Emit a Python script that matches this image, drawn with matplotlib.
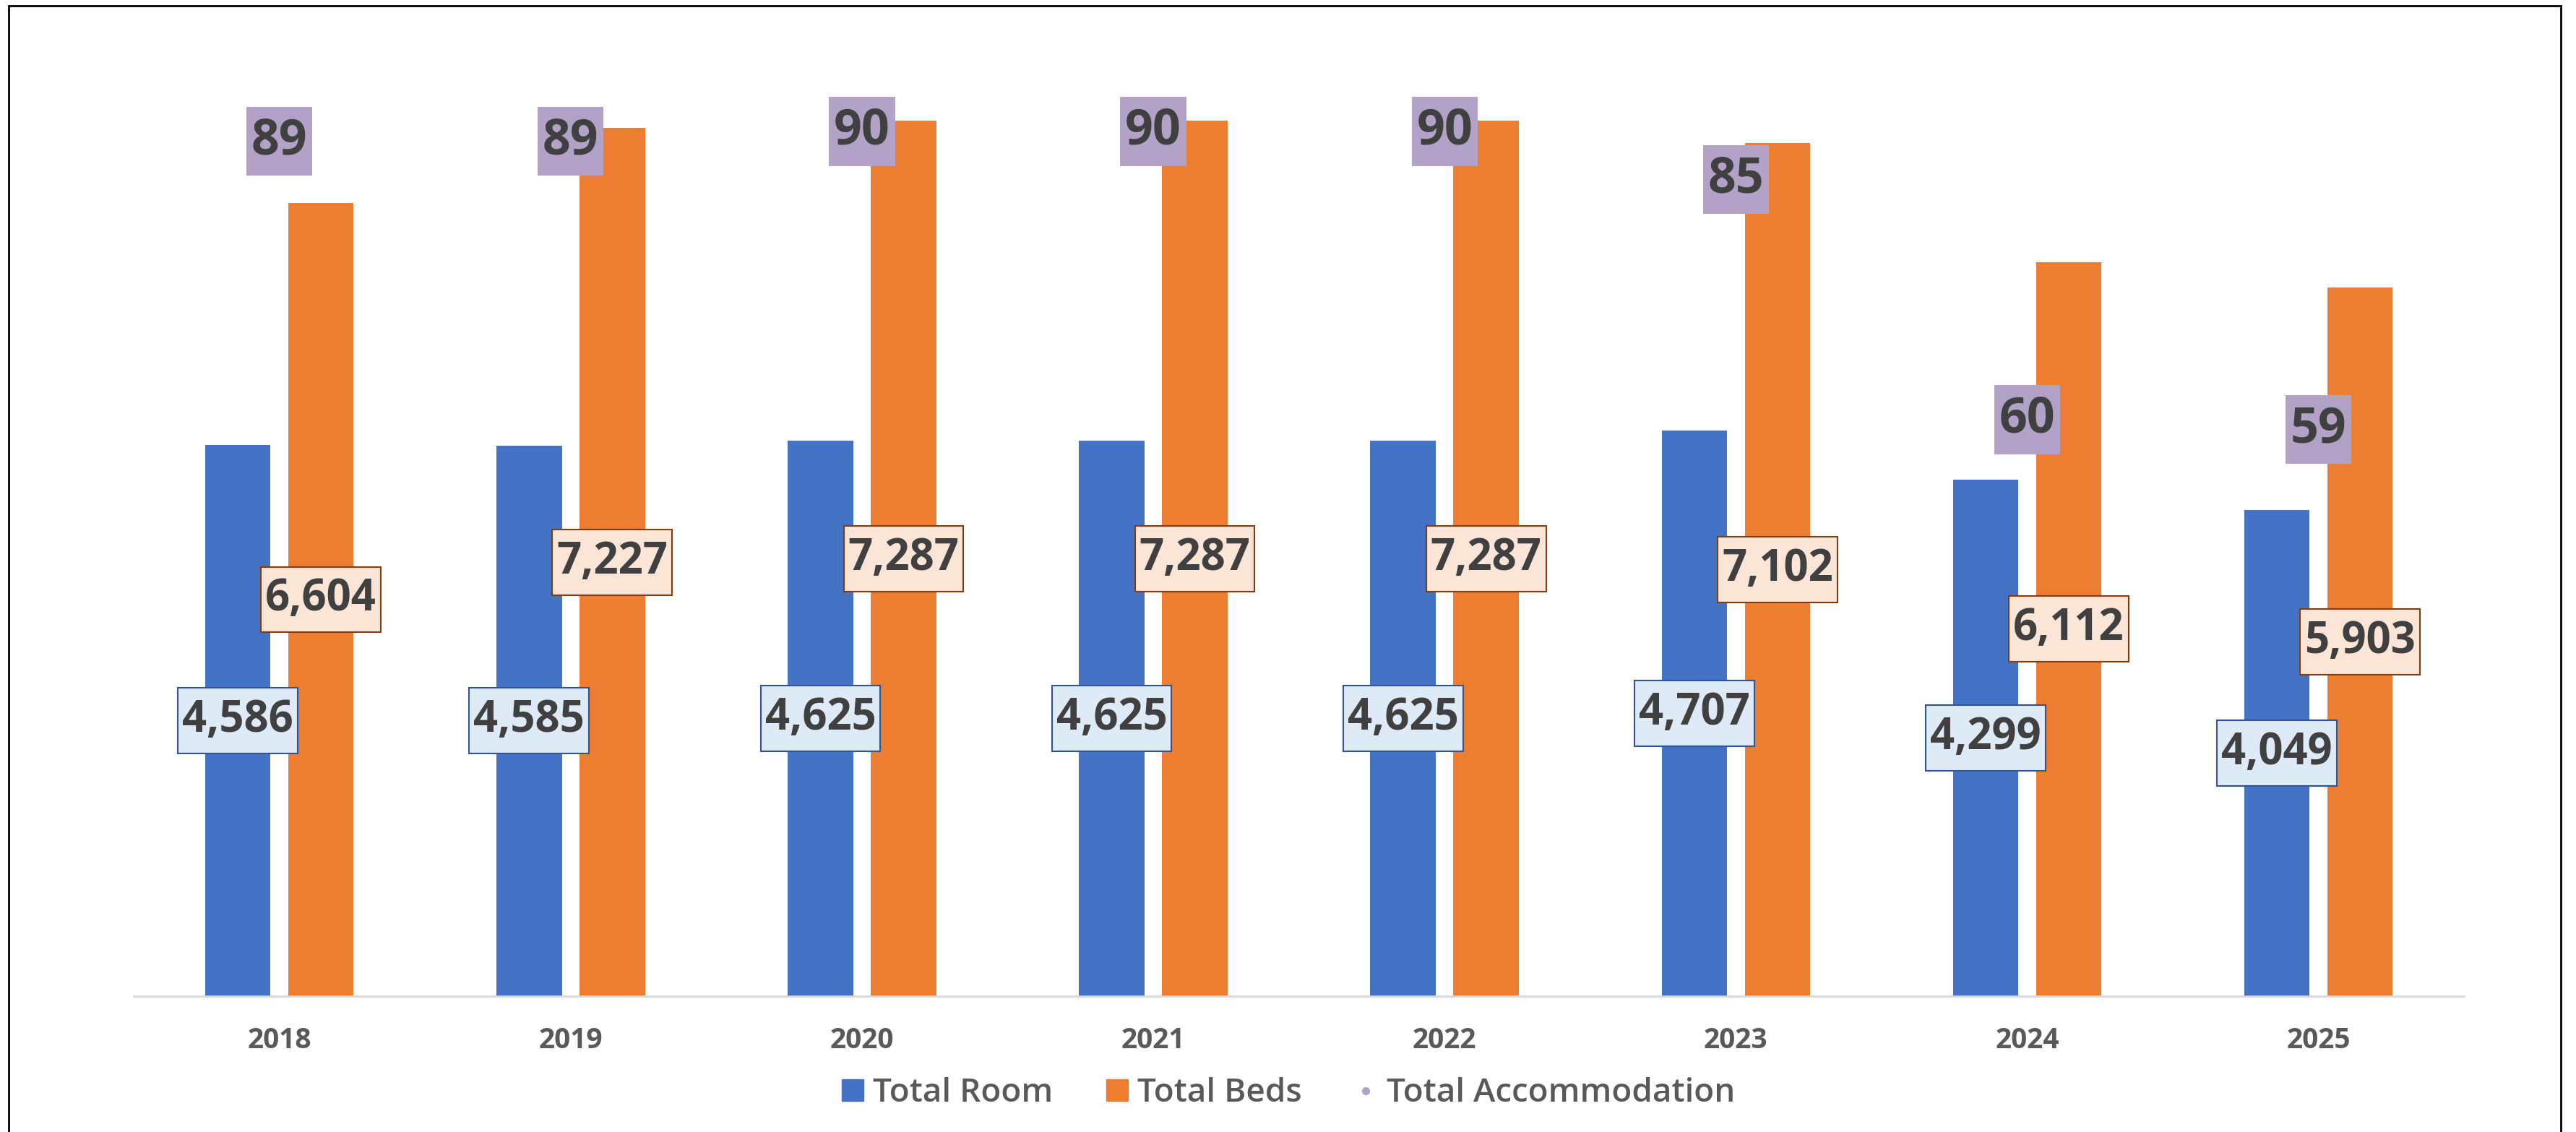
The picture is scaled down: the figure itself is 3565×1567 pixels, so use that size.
import numpy as np
import matplotlib
matplotlib.use('Agg')
import matplotlib.pyplot as plt
from matplotlib.patches import Patch, Rectangle
from matplotlib.lines import Line2D
from matplotlib.path import Path

plt.rcParams['font.family'] = ['Open Sans', 'DejaVu Sans']

# data
years = ['2018', '2019', '2020', '2021', '2022', '2023', '2024', '2025']
total_room = [4586, 4585, 4625, 4625, 4625, 4707, 4299, 4049]
total_beds = [6604, 7227, 7287, 7287, 7287, 7102, 6112, 5903]
total_accom = [89, 89, 90, 90, 90, 85, 60, 59]

c_room = '#4472C4'
c_beds = '#ED7D31'
c_accom = '#B3A2C7'
txt = '#404040'


def box(padx, pady):
    # square box with separate horizontal / vertical padding
    def style(x0, y0, width, height, mutation_size):
        px = padx * mutation_size
        py = pady * mutation_size
        x0, y0 = x0 - px, y0 - py
        x1, y1 = x0 + width + 2 * px, y0 + height + 2 * py
        return Path([(x0, y0), (x1, y0), (x1, y1), (x0, y1), (x0, y0)], closed=True)
    return style


fig = plt.figure(figsize=(35.66, 15.67), dpi=100)
ax = fig.add_axes([0.0519, 0.12, 0.9044, 0.8488])
ax2 = ax.twinx()

x = np.arange(len(years))
w = 0.2245
off = 0.1427
ax.bar(x - off, total_room, w, color=c_room, zorder=2)
ax.bar(x + off, total_beds, w, color=c_beds, zorder=2)
ax.set_xlim(-0.5, len(years) - 0.5)
ax.set_ylim(0, 8000)
ax2.set_ylim(0, 100)

# value labels, centred in the bars
for i in range(len(years)):
    ax.text(x[i] - off, total_room[i] / 2, f'{total_room[i]:,}', ha='center', va='center',
            fontsize=43, fontweight='bold', color=txt, zorder=5,
            bbox=dict(boxstyle=box(0.1, 0.25), fc='#DEEBF7', ec='#2F5597', lw=1.5))
    ax.text(x[i] + off, total_beds[i] / 2, f'{total_beds[i]:,}', ha='center', va='center',
            fontsize=43, fontweight='bold', color=txt, zorder=5,
            bbox=dict(boxstyle=box(0.1, 0.25), fc='#FBE5D6', ec='#843C0C', lw=1.5))

ax2.plot(x, total_accom, 'o', color=c_accom, markersize=6, zorder=3)
for i in range(len(years)):
    ax2.text(x[i], total_accom[i], str(total_accom[i]), ha='center', va='center',
             fontsize=49, fontweight='bold', color=txt, zorder=6,
             bbox=dict(boxstyle=box(0.1, 0.2), fc=c_accom, ec='none'))

# axes styling
for a in (ax, ax2):
    for s in ['top', 'right', 'left']:
        a.spines[s].set_visible(False)
    a.set_yticks([])
ax2.spines['bottom'].set_visible(False)
ax.spines['bottom'].set_color('#D9D9D9')
ax.spines['bottom'].set_linewidth(2)
ax.set_xticks(x, years)
ax.tick_params(axis='x', length=0, pad=30, labelsize=28, labelcolor='#595959')
for lb in ax.get_xticklabels():
    lb.set_fontweight('bold')

handles = [Patch(color=c_room, label='Total Room'),
           Patch(color=c_beds, label='Total Beds'),
           Line2D([], [], ls='none', marker='o', color=c_accom, markersize=7, label='Total Accommodation')]
leg = fig.legend(handles=handles, loc='center', bbox_to_anchor=(0.5, 0.034), ncol=3, frameon=False,
                 fontsize=33, handlelength=0.65, handleheight=0.65, handletextpad=0.3, columnspacing=1.6)
for t in leg.get_texts():
    t.set_color('#595959')
    t.set_fontweight('semibold')

# outer border
fig.patches.append(Rectangle((12 / 3566, -0.02), (3544 - 12) / 3566, 1.02 - 8 / 1567,
                             transform=fig.transFigure, fill=False, ec='black', lw=2))

fig.savefig('out.png', dpi=100)
